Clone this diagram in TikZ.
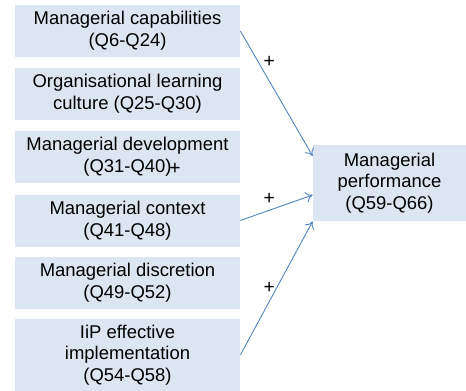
\documentclass[tikz,border=0pt]{standalone}
\usepackage{fontspec}
\setmainfont{Liberation Sans}
\usepackage{xcolor}
\definecolor{boxfill}{RGB}{220,230,242}
\definecolor{arrowblue}{RGB}{79,129,189}
\usetikzlibrary{arrows.meta}

\begin{document}
\begin{tikzpicture}[
  box/.style={rectangle, fill=boxfill, minimum width=4.5cm, minimum height=1.04cm, inner sep=1pt, align=center, font=\fontsize{10.5}{12.3}\selectfont},
  arrow/.style={-{To[length=4pt,width=6pt]}, arrowblue, line width=0.5pt},
  plus/.style={text=black, font=\fontsize{11}{11}\selectfont, inner sep=0pt}
]
\useasboundingbox (0,0) rectangle (9.32,-7.82);
\node[box] (cap) at (2.55,-0.62) {Managerial capabilities\\(Q6-Q24)};
\node[box] (olc) at (2.55,-1.88) {Organisational learning\\culture (Q25-Q30)};
\node[box] (dev) at (2.55,-3.14) {Managerial development\\(Q31-Q40)};
\node[box] (ctx) at (2.55,-4.41) {Managerial context\\(Q41-Q48)};
\node[box] (dis) at (2.55,-5.66) {Managerial discretion\\(Q49-Q52)};
\node[box, minimum height=1.44cm] (iip) at (2.55,-7.10) {IiP effective\\implementation\\(Q54-Q58)};
\node[box, minimum width=3.06cm, minimum height=1.52cm] (perf) at (7.79,-3.66) {Managerial\\performance\\(Q59-Q66)};
\node[plus] (stray) at (3.5,-3.38) {+};

\draw[arrow] (cap.east) -- node[plus, pos=0.4, yshift=0.38cm] {+} ([yshift=0.54cm]perf.west);
\draw[arrow] (ctx.east) -- node[plus, pos=0.4, yshift=0.22cm] {+} ([yshift=-0.24cm]perf.west);
\draw[arrow] (iip.east) -- node[plus, pos=0.4, yshift=0.27cm] {+} (perf.south west);
\end{tikzpicture}
\end{document}
